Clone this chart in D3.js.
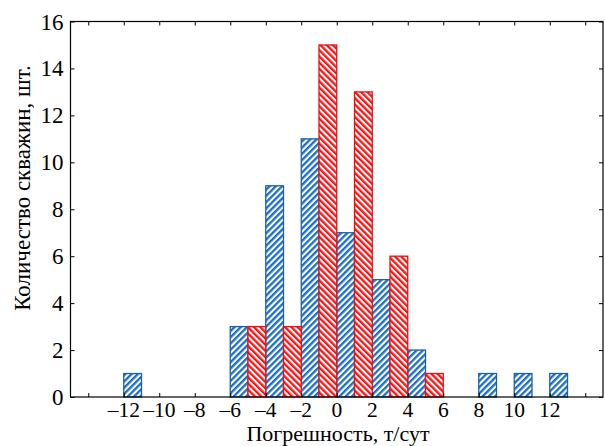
<!DOCTYPE html>
<html><head><meta charset="utf-8">
<script src="https://cdn.jsdelivr.net/npm/d3@7"></script>
<style>html,body{margin:0;padding:0;background:#fff;}svg{display:block;}</style>
</head><body>
<script>
const binStarts = [-14,-12,-10,-8,-6,-4,-2,0,2,4,6,8,10,12];
const blueValues = [0,1,0,0,3,9,11,7,5,2,0,1,1,1];
const redValues  = [0,0,0,0,3,3,15,13,6,1,0,0,0,0];
const xTicks = [-14,-12,-10,-8,-6,-4,-2,0,2,4,6,8,10,12,14];
const xLabels = [-12,-10,-8,-6,-4,-2,0,2,4,6,8,10,12];
const yTicks = [0,2,4,6,8,10,12,14,16];
const xTitle = "Погрешность, т/сут";
const yTitle = "Количество скважин, шт.";

const W = 605, H = 446;
const L = 70.5, R = 603, T = 21.5, B = 397;
const FONT = "'Liberation Serif', 'DejaVu Serif', serif";
const svg = d3.select("body").append("svg").attr("width", W).attr("height", H);
const x = d3.scaleLinear().domain([-15, 15]).range([L, R]);
const y = d3.scaleLinear().domain([0, 16]).range([B, T]);

const defs = svg.append("defs");
function hatch(id, color, angle) {
  const p = defs.append("pattern").attr("id", id).attr("patternUnits", "userSpaceOnUse")
    .attr("width", 4.4).attr("height", 4.4).attr("patternTransform", `rotate(${angle})`);
  p.append("rect").attr("width", 4.4).attr("height", 4.4).attr("fill", "#fff");
  p.append("rect").attr("width", 2.3).attr("height", 4.4).attr("fill", color);
}
hatch("hb", "#1a6fc8", 45);
hatch("hr", "#ff1010", -45);

const g = svg.append("g");
g.selectAll(".b").data(binStarts.map((s, i) => ({s, v: blueValues[i]}))).join("rect")
  .attr("x", d => x(d.s)).attr("width", d => x(d.s + 1) - x(d.s))
  .attr("y", d => y(d.v)).attr("height", d => y(0) - y(d.v))
  .attr("fill", "url(#hb)").attr("stroke", "#1f5fa8").attr("stroke-width", 1.3);
g.selectAll(".r").data(binStarts.map((s, i) => ({s, v: redValues[i]}))).join("rect")
  .attr("x", d => x(d.s + 1)).attr("width", d => x(d.s + 2) - x(d.s + 1))
  .attr("y", d => y(d.v)).attr("height", d => y(0) - y(d.v))
  .attr("fill", "url(#hr)").attr("stroke", "#e81010").attr("stroke-width", 1.3);

svg.append("rect").attr("x", L).attr("y", T).attr("width", R - L).attr("height", B - T)
  .attr("fill", "none").attr("stroke", "#000").attr("stroke-width", 1.2);

function inward(axis, tr) {
  const a = svg.append("g").attr("transform", tr)
    .call(axis.tickSizeInner(-4).tickSizeOuter(0).tickFormat(""));
  a.select(".domain").remove();
}
inward(d3.axisBottom(x).tickValues(xTicks), `translate(0,${B})`);
inward(d3.axisTop(x).tickValues(xTicks), `translate(0,${T})`);
inward(d3.axisLeft(y).tickValues(yTicks), `translate(${L},0)`);
inward(d3.axisRight(y).tickValues(yTicks), `translate(${R},0)`);
svg.selectAll(".tick line").attr("stroke", "#000").attr("stroke-width", 1);

const fmt = v => v < 0 ? "\u2013" + Math.abs(v) : String(v);
svg.append("g").selectAll("text").data(xLabels).join("text")
  .attr("x", d => x(d)).attr("y", B + 20).attr("text-anchor", "middle")
  .style("font-family", FONT).style("font-size", "21.5px").text(fmt);
svg.append("g").selectAll("text").data(yTicks).join("text")
  .attr("x", L - 7).attr("y", d => y(d) + 8).attr("text-anchor", "end")
  .style("font-family", FONT).style("font-size", "23px").text(d => d);

svg.append("text").attr("x", 338).attr("y", 441.2).attr("text-anchor", "middle")
  .style("font-family", FONT).style("font-size", "22px").text(xTitle);
svg.append("text").attr("transform", "translate(30,188) rotate(-90)").attr("text-anchor", "middle")
  .style("font-family", FONT).style("font-size", "23px").text(yTitle);
</script>
</body></html>
